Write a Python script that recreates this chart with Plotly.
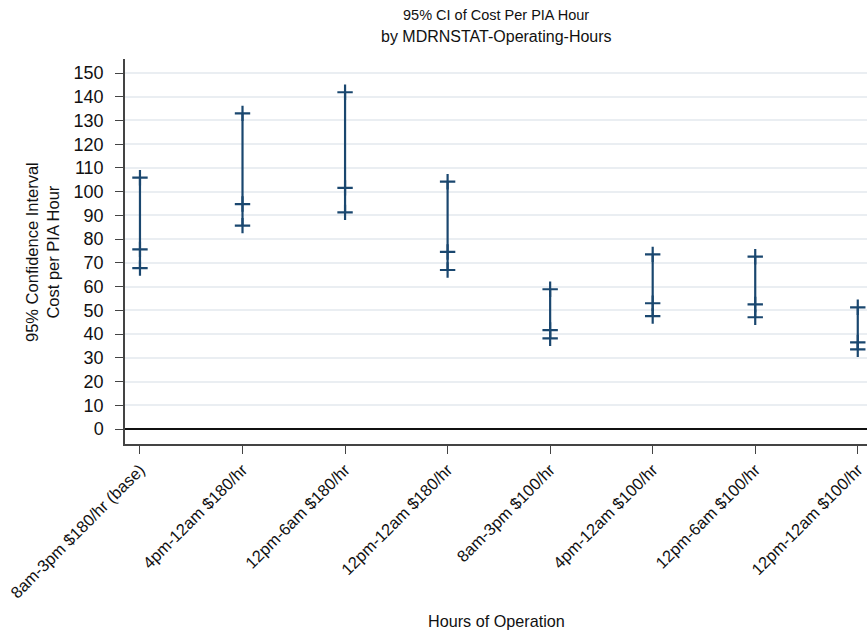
import plotly.graph_objects as go

categories = ["8am-3pm $180/hr (base)", "4pm-12am $180/hr", "12pm-6am $180/hr",
              "12pm-12am $180/hr", "8am-3pm $100/hr", "4pm-12am $100/hr",
              "12pm-6am $100/hr", "12pm-12am $100/hr"]
upper = [105.9, 133.0, 141.9, 104.2, 58.9, 73.6, 72.6, 51.3]
mean = [75.7, 94.8, 101.6, 74.6, 41.7, 53.0, 52.5, 36.5]
lower = [67.8, 85.7, 91.3, 67.0, 38.2, 47.6, 47.1, 33.6]
y_ticks = list(range(0, 151, 10))

COLOR = "#1a476f"
FONT = "Liberation Sans, Arial, Helvetica, sans-serif"

xs = list(range(len(categories)))
lx, ly = [], []
for i in xs:
    lx += [i, i, None]
    ly += [lower[i], upper[i], None]

fig = go.Figure()
fig.add_trace(go.Scatter(x=lx, y=ly, mode="lines",
                         line=dict(color=COLOR, width=2.2), hoverinfo="skip",
                         showlegend=False))
px, py = [], []
for i in xs:
    px += [i, i, i]
    py += [lower[i], mean[i], upper[i]]
fig.add_trace(go.Scatter(x=px, y=py, mode="markers",
                         marker=dict(symbol="cross-thin", size=11,
                                     line=dict(color=COLOR, width=2.2)),
                         showlegend=False))

fig.update_layout(
    width=867, height=633,
    margin=dict(l=125, r=0, t=59, b=189),
    plot_bgcolor="white", paper_bgcolor="white",
    font=dict(family=FONT, color="#111111", size=15),
    showlegend=False,
    annotations=[
        dict(text="95% CI of Cost Per PIA Hour", x=0.5, xref="paper",
             y=(444 - 15) / 385, yref="paper", yanchor="middle",
             showarrow=False, font=dict(size=14.5)),
        dict(text="by MDRNSTAT-Operating-Hours", x=0.5, xref="paper",
             y=(444 - 37) / 385, yref="paper", yanchor="middle",
             showarrow=False, font=dict(size=16)),
        dict(text="95% Confidence Interval<br>Cost per PIA Hour",
             x=(42 - 125) / 742, xref="paper", y=(444 - 252) / 385, yref="paper",
             textangle=-90, showarrow=False, font=dict(size=16.5),
             xanchor="center", yanchor="middle"),
        dict(text="Hours of Operation", x=0.5, xref="paper",
             y=(444 - 621) / 385, yref="paper", yanchor="middle",
             showarrow=False, font=dict(size=16.2)),
    ],
)

fig.update_xaxes(
    range=[-0.146, 7.09],
    tickmode="array", tickvals=xs, ticktext=categories,
    tickangle=-45, ticks="outside", ticklen=8, tickcolor="#444444",
    tickwidth=1.3, showgrid=False, zeroline=False,
    showline=True, linecolor="#444444", linewidth=1.5,
    tickfont=dict(size=16.5), fixedrange=True,
)
fig.update_yaxes(
    range=[-6.3, 155.9],
    tickmode="array", tickvals=y_ticks,
    ticks="outside", ticklen=8, tickcolor="#444444", tickwidth=1.3,
    showgrid=True, gridcolor="#eaeef2", gridwidth=1.5,
    zeroline=True, zerolinecolor="#111111", zerolinewidth=2,
    showline=True, linecolor="#444444", linewidth=1.5,
    tickfont=dict(size=18), ticklabelstandoff=8,
)

fig.write_html("out.html")
